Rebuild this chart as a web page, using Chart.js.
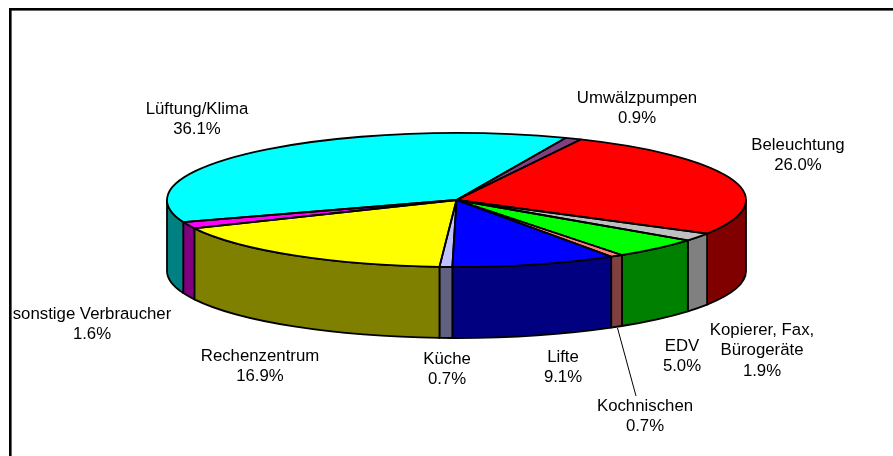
<!DOCTYPE html>
<html>
<head>
<meta charset="utf-8">
<script src="https://cdn.jsdelivr.net/npm/chart.js@4"></script>
<style>html,body{margin:0;padding:0;background:#fff}canvas{display:block}</style>
</head>
<body>
<canvas id="c" width="893" height="456"></canvas>
<script>
const categories = ["Beleuchtung","Kopierer, Fax, Bürogeräte","EDV","Kochnischen","Lifte","Küche","Rechenzentrum","sonstige Verbraucher","Lüftung/Klima","Umwälzpumpen"];
const shares = [26.0,1.9,5.0,0.7,9.1,0.7,16.9,1.6,36.1,0.9];
const topColors = ["#FF0000","#C0C0C0","#00FF00","#FF8080","#0000FF","#C0C0FF","#FFFF00","#FF00FF","#00FFFF","#803F80"];
const sideColors = ["#800000","#808080","#008000","#804040","#000080","#606080","#808000","#800080","#008080","#401F40"];
const labelLines = [["Beleuchtung"],["Kopierer, Fax,","Bürogeräte"],["EDV"],["Kochnischen"],["Lifte"],["Küche"],["Rechenzentrum"],["sonstige Verbraucher"],["Lüftung/Klima"],["Umwälzpumpen"]];
const labelCenters = [[798,144],[762,329],[682,345],[645,405],[563,356],[447,358],[260,355],[92,313],[197,108],[637,97]];

const RADIUS = 289.5, SQUASH = 67/289.5, DEPTH = 71, LINE = 1.8;

function ring(ctx, x, y, a0, a1, ccw){ ctx.ellipse(x, y, RADIUS, RADIUS*SQUASH, 0, a0, a1, !!ccw); }

const pie3d = {
  id:'pie3d',
  beforeDatasetDraw(chart){
    const ctx = chart.ctx;
    ctx.save();
    // frame, cut by the window on the right and at the bottom
    ctx.fillStyle='#000';
    ctx.fillRect(9,8,900,2.6);
    ctx.fillRect(9,8,2.6,460);
    ctx.lineWidth = LINE; ctx.strokeStyle='#000'; ctx.lineJoin='round';
    chart.getDatasetMeta(0).data.forEach((arc,i)=>{
      const p = arc.getProps(['x','y','startAngle','endAngle']);
      const TAU = Math.PI*2;
      for (const k of [-1,0,1]) {
        const a0 = Math.max(p.startAngle+k*TAU,0), a1 = Math.min(p.endAngle+k*TAU,Math.PI);
        if (a1<=a0) continue;
        ctx.beginPath();
        ring(ctx,p.x,p.y,a0,a1);
        ring(ctx,p.x,p.y+DEPTH,a1,a0,true);
        ctx.closePath();
        ctx.fillStyle = sideColors[i];
        ctx.fill(); ctx.stroke();
      }
    });
    ctx.restore();
    const a = chart.getDatasetMeta(0).data[0];
    ctx.save();
    ctx.translate(a.x,a.y); ctx.scale(1,SQUASH); ctx.translate(-a.x,-a.y);
  },
  afterDatasetDraw(chart){
    const ctx = chart.ctx;
    ctx.restore();
    ctx.save();
    ctx.lineWidth = LINE; ctx.strokeStyle='#000'; ctx.lineJoin='round';
    chart.getDatasetMeta(0).data.forEach(arc=>{
      const p = arc.getProps(['x','y','startAngle','endAngle']);
      ctx.beginPath();
      ctx.moveTo(p.x,p.y);
      ring(ctx,p.x,p.y,p.startAngle,p.endAngle);
      ctx.closePath();
      ctx.stroke();
    });
    // leader line of the Kochnischen label
    ctx.lineWidth = 1;
    ctx.strokeStyle='#000';
    ctx.beginPath(); ctx.moveTo(617.5,328); ctx.lineTo(636,396); ctx.stroke();
    ctx.fillStyle='#000';
    ctx.font='16.8px "Liberation Sans", Arial, sans-serif';
    ctx.textAlign='center'; ctx.textBaseline='middle';
    categories.forEach((name,i)=>{
      const [x,y0] = labelCenters[i];
      const lines = labelLines[i].concat(shares[i].toFixed(1)+'%');
      lines.forEach((t,j)=>ctx.fillText(t,x,y0+1+j*20.7));
    });
    ctx.restore();
  }
};

new Chart(document.getElementById('c'),{
  type:'pie',
  data:{labels:categories,datasets:[{data:shares,backgroundColor:topColors,borderWidth:0,radius:RADIUS,clip:false}]},
  options:{
    responsive:false,animation:false,rotation:25.4,
    layout:{padding:{left:20,right:0,top:0,bottom:56}},
    plugins:{legend:{display:false},tooltip:{enabled:false}}
  },
  plugins:[pie3d]
});
</script>
</body>
</html>
